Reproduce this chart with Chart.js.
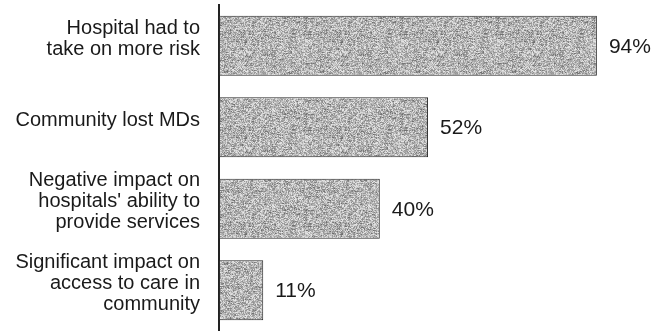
<!DOCTYPE html>
<html>
<head>
<meta charset="utf-8">
<script src="https://cdn.jsdelivr.net/npm/chart.js@4/dist/chart.umd.min.js"></script>
<style>
  html, body { margin: 0; padding: 0; background: #fff; }
  #wrap { width: 652px; height: 331px; }
</style>
</head>
<body>
<div id="wrap"><canvas id="c" width="652" height="331"></canvas></div>
<script>
// Survey responses: share of hospitals reporting each consequence
const categories = [
  ['Hospital had to', 'take on more risk'],
  ['Community lost MDs'],
  ['Negative impact on', "hospitals' ability to", 'provide services'],
  ['Significant impact on', 'access to care in', 'community']
];
const shares = [94, 52, 40, 11];
const axisRange = [0, 100];

const FONT = '"Liberation Sans", Arial, Helvetica, sans-serif';
const INK = '#1a1a1a';

// Stippled grey fill for the bars (deterministic hash noise)
function stipplePattern() {
  const size = 96;
  const off = document.createElement('canvas');
  off.width = size; off.height = size;
  const g = off.getContext('2d');
  const img = g.createImageData(size, size);
  for (let y = 0; y < size; y++) {
    for (let x = 0; x < size; x++) {
      let h = Math.imul(x, 374761393) ^ Math.imul(y, 668265263);
      h = Math.imul(h ^ (h >>> 13), 1274126177);
      h = (h ^ (h >>> 16)) >>> 0;
      let s = Math.imul((x >> 2) * 31 + 7, 2246822519) ^ Math.imul(y, 3266489917);
      s = (Math.imul(s ^ (s >>> 15), 668265263) ^ (s >>> 11)) >>> 0;
      const fine = (h & 255) / 255;
      const streak = ((s & 255) / 255) > 0.82 ? -30 : 0;
      let v = 138 + fine * 95 + streak;
      v = Math.max(70, Math.min(245, v));
      const i = (y * size + x) * 4;
      img.data[i] = img.data[i + 1] = img.data[i + 2] = v;
      img.data[i + 3] = 255;
    }
  }
  g.putImageData(img, 0, 0);
  return g.createPattern(off, 'repeat');
}

// Percentage printed just past the end of each bar
const valueLabels = {
  id: 'valueLabels',
  afterDatasetsDraw(chart) {
    const ctx = chart.ctx;
    const meta = chart.getDatasetMeta(0);
    ctx.save();
    ctx.font = '21px ' + FONT;
    ctx.fillStyle = INK;
    ctx.textAlign = 'left';
    ctx.textBaseline = 'middle';
    meta.data.forEach((bar, i) => {
      ctx.fillText(shares[i] + '%', bar.x + 12, bar.y + 1);
    });
    ctx.restore();
  }
};

new Chart(document.getElementById('c'), {
  type: 'bar',
  data: {
    labels: categories,
    datasets: [{
      data: shares,
      backgroundColor: stipplePattern(),
      borderColor: '#2a2a2a',
      borderWidth: 1,
      borderSkipped: false,
      barPercentage: 0.736,
      categoryPercentage: 1
    }]
  },
  options: {
    indexAxis: 'y',
    responsive: false,
    animation: false,
    devicePixelRatio: 1,
    layout: { padding: { top: 5, right: 31, bottom: 0, left: 0 } },
    plugins: { legend: { display: false }, tooltip: { enabled: false } },
    scales: {
      x: { display: false, min: axisRange[0], max: axisRange[1] },
      y: {
        afterFit(scale) {
          scale.width = 219;
          scale.paddingTop = 0;
          scale.paddingBottom = 0;
        },
        grid: { display: true, color: 'rgba(0,0,0,0)', drawTicks: false },
        border: { display: true, color: '#222', width: 2 },
        ticks: {
          autoSkip: false,
          padding: 19,
          labelOffset: -7,
          color: INK,
          font: { family: FONT, size: 20, lineHeight: 1.05 }
        }
      }
    }
  },
  plugins: [valueLabels]
});
</script>
</body>
</html>
